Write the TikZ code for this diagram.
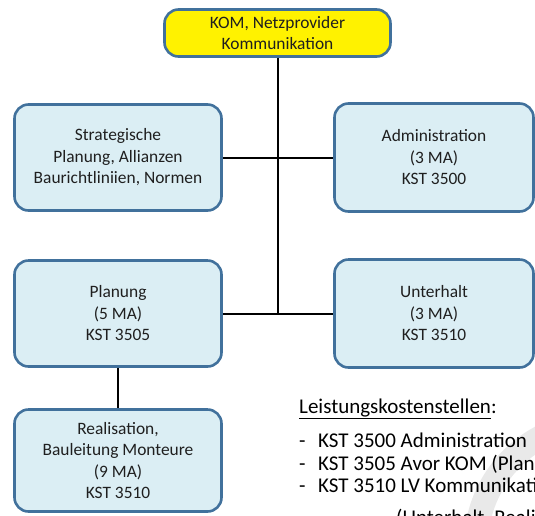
\documentclass[tikz,border=0pt]{standalone}
\usepackage{fontspec}
\setmainfont{Carlito}
\definecolor{boxline}{HTML}{41719C}
\definecolor{boxfill}{HTML}{DBEEF4}
\definecolor{boxtext}{HTML}{1F1F1F}
\definecolor{ringgray}{HTML}{E9E9E9}
\begin{document}
\begin{tikzpicture}[x=1pt,y=-1pt,
  unit/.style={draw=boxline, line width=2.6pt, rounded corners=14pt, fill=boxfill,
    align=center, inner sep=0pt, text=boxtext,
    font=\fontsize{17.4}{21.5}\selectfont},
  leftunit/.style={unit, minimum width=207pt, minimum height=106pt},
  rightunit/.style={unit, minimum width=199pt, minimum height=108pt},
  link/.style={line width=2pt, black},
  listline/.style={anchor=base west, inner sep=0pt, font=\fontsize{21}{24}\selectfont}]
\useasboundingbox (0,0) rectangle (535,515);
\clip (0,0) rectangle (535,515);

% faint logo ring in the lower right corner
\draw[draw=ringgray, line width=24pt] (598,545) circle (122);

% units
\node[unit, fill=yellow, minimum width=226pt, minimum height=47pt] (kom) at (277.5,33)
  {KOM, Netzprovider\\Kommunikation};
\node[leftunit] (strat) at (118,157.5) {Strategische\\Planung, Allianzen\\Baurichtliniien, Normen};
\node[rightunit] (admin) at (434,157.5) {Administration\\(3 MA)\\KST 3500};
\node[leftunit] (plan) at (118,313.5) {Planung\\(5 MA)\\KST 3505};
\node[rightunit] (unter) at (434,313.5) {Unterhalt\\(3 MA)\\KST 3510};
\node[leftunit, minimum height=102pt] (real) at (118,460.5)
  {Realisation,\\Bauleitung Monteure\\(9 MA)\\KST 3510};

% connectors
\draw[link] (kom.south) -- (kom.south |- plan.east);
\draw[link] (strat.east) -- (admin.west);
\draw[link] (plan.east) -- (unter.west);
\draw[link] (plan.south) -- (real.north);

% cost centre list
\node[listline] (head) at (299,413) {\underline{Leistungskostenstellen}:};
\node[listline] (d1) at (299,447) {-};
\node[listline] (k1) at (318,447) {KST 3500 Administration};
\node[listline] (d2) at (299,470) {-};
\node[listline] (k2) at (318,470) {KST 3505 Avor KOM (Planung)};
\node[listline] (d3) at (299,492) {-};
\node[listline] (k3) at (318,492) {KST 3510 LV Kommunikation};
\node[listline] (k4) at (396,524) {(Unterhalt, Realisation)};
\end{tikzpicture}
\end{document}
